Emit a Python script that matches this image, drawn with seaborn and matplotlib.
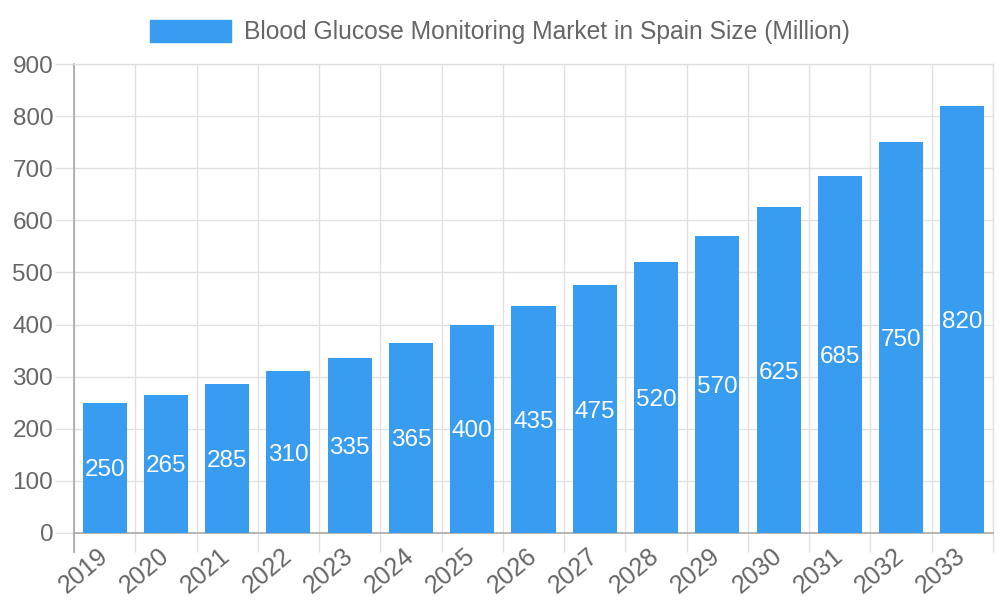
import matplotlib
matplotlib.use("Agg")
import matplotlib.pyplot as plt
import seaborn as sns
import pandas as pd
import numpy as np
from matplotlib.patches import Patch

years = ["2019", "2020", "2021", "2022", "2023", "2024", "2025", "2026",
         "2027", "2028", "2029", "2030", "2031", "2032", "2033"]
values = [250, 265, 285, 310, 335, 365, 400, 435, 475, 520, 570, 625, 685, 750, 820]
series_name = "Blood Glucose Monitoring Market in Spain Size (Million)"
y_ticks = [0, 100, 200, 300, 400, 500, 600, 700, 800, 900]

BAR = "#389cf0"
TXT = "#666666"
GRID = "#e1e1e1"
AXIS = "#a8a8a8"
FS = 17.5

sns.set_theme(style="white")
plt.rcParams["font.family"] = ["Liberation Sans", "DejaVu Sans"]

df = pd.DataFrame({"year": years, "value": values})

fig = plt.figure(figsize=(10, 6), dpi=100)
ax = fig.add_axes([0.074, 0.1117, 0.919, 0.7816])

sns.barplot(data=df, x="year", y="value", color=BAR, width=0.72,
            saturation=1, linewidth=0, ax=ax, zorder=3)

ax.set_xlim(-0.5, len(years) - 0.5)
ax.set_ylim(0, 900)
ax.set_yticks(y_ticks)
ax.set_yticklabels([str(t) for t in y_ticks])
ax.set_xlabel("")
ax.set_ylabel("")

# grid
ax.set_xticks(np.arange(-0.5, len(years), 1.0), minor=True)
ax.grid(True, axis="y", which="major", color=GRID, linewidth=1, zorder=0)
ax.grid(True, axis="x", which="minor", color=GRID, linewidth=1, zorder=0)
ax.grid(False, axis="x", which="major")
ax.set_axisbelow(True)

ax.tick_params(axis="x", which="major", length=0, pad=14, labelsize=FS + 0.5, labelcolor=TXT)
ax.tick_params(axis="x", which="minor", length=14, width=1, color=GRID, direction="out")
ax.tick_params(axis="y", which="major", length=14, width=1, color=GRID, pad=1,
               labelsize=FS, labelcolor=TXT, direction="out")
ax.tick_params(bottom=True, left=True, which="both")
for lbl in ax.get_xticklabels():
    lbl.set_rotation(40)
    lbl.set_ha("right")
    lbl.set_rotation_mode("anchor")
    lbl.set_va("center")

for s in ["top", "right"]:
    ax.spines[s].set_color(GRID)
    ax.spines[s].set_linewidth(1)
for s in ["left", "bottom"]:
    ax.spines[s].set_color(AXIS)
    ax.spines[s].set_linewidth(1.2)
ax.spines["left"].set_bounds(-37, 900)

for i, v in enumerate(values):
    ax.text(i, v / 2, str(v), ha="center", va="center_baseline", color="white",
            fontsize=FS, zorder=4)

handle = Patch(facecolor=BAR, edgecolor=BAR)
leg = fig.legend([handle], [series_name], loc="center", bbox_to_anchor=(0.5, 0.947),
                 frameon=False, fontsize=FS + 0.2, handlelength=3.3, handleheight=1.0,
                 handletextpad=0.55)
for t in leg.get_texts():
    t.set_color(TXT)

fig.savefig("out.png", dpi=100)
